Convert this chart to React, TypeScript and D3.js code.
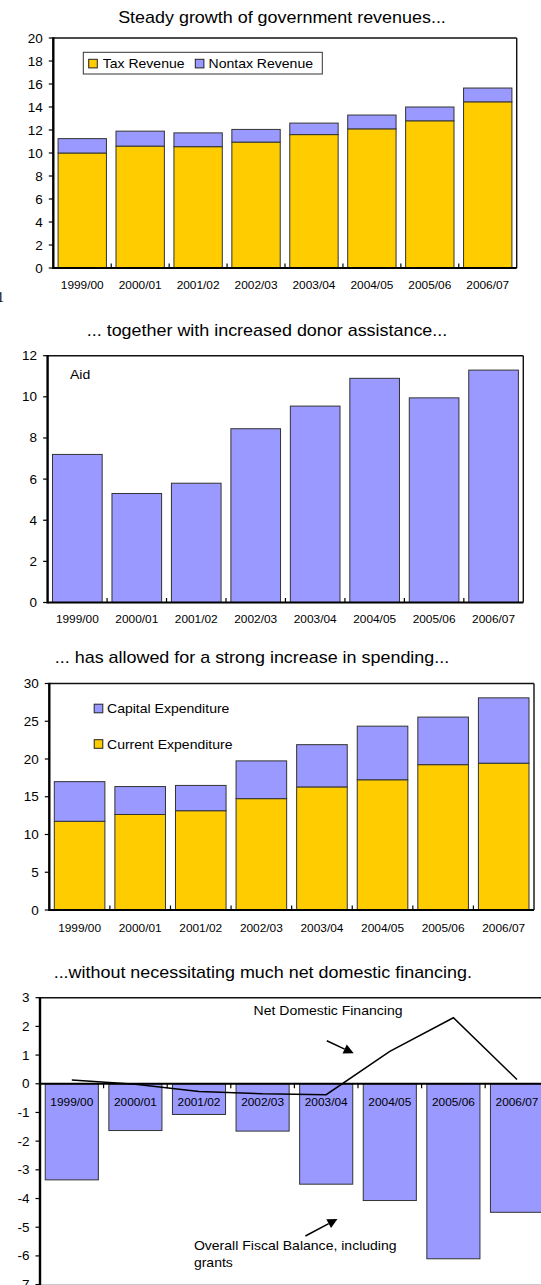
import React from "react";
import * as d3 from "d3";

// Fiscal years shared by all four panels
const years = ["1999/00", "2000/01", "2001/02", "2002/03", "2003/04", "2004/05", "2005/06", "2006/07"];

// Panel 1: revenues (percent of GDP)
const taxRevenue = [10.0, 10.6, 10.55, 10.95, 11.6, 12.1, 12.8, 14.45];
const nontaxRevenue = [1.25, 1.3, 1.2, 1.1, 1.0, 1.2, 1.2, 1.2];
const revenueTicks = [0, 2, 4, 6, 8, 10, 12, 14, 16, 18, 20];

// Panel 2: donor aid
const aid = [7.2, 5.3, 5.8, 8.45, 9.55, 10.9, 9.95, 11.3];
const aidTicks = [0, 2, 4, 6, 8, 10, 12];

// Panel 3: spending
const currentExpenditure = [11.75, 12.65, 13.15, 14.75, 16.3, 17.25, 19.25, 19.45];
const capitalExpenditure = [5.25, 3.7, 3.35, 5.0, 5.6, 7.1, 6.3, 8.65];
const spendingTicks = [0, 5, 10, 15, 20, 25, 30];

// Panel 4: fiscal balance and domestic financing
const fiscalBalance = [-3.35, -1.63, -1.07, -1.65, -3.5, -4.07, -6.1, -4.48];
const netDomesticFinancing = [0.13, -0.02, -0.27, -0.35, -0.38, 1.13, 2.3, 0.15];
const balanceTicks = [3, 2, 1, 0, -1, -2, -3, -4, -5, -6, -7];

const YELLOW = "#FFCC00";
const PURPLE = "#9999FF";
const FONT = "'Liberation Sans', Arial, Helvetica, sans-serif";
const STRETCH = 1.08;

type TProps = {
  x: number;
  y: number;
  size: number;
  anchor?: "start" | "middle" | "end";
  family?: string;
  children: React.ReactNode;
};

const T = ({ x, y, size, anchor = "start", family = FONT, children }: TProps) => (
  <text
    transform={`translate(${x},${y}) scale(${STRETCH},1)`}
    textAnchor={anchor}
    fontSize={size}
    fontFamily={family}
    fill="#000"
  >
    {children}
  </text>
);

const PAD = 0.165;

function band(x0: number, x1: number) {
  return d3.scaleBand<string>().domain(years).range([x0, x1]).paddingInner(PAD).paddingOuter(PAD / 2);
}

type FrameProps = {
  x0: number;
  x1: number;
  yTop: number;
  yBottom: number;
  y: d3.ScaleLinear<number, number>;
  ticks: number[];
};

// Plot frame, left axis with outward ticks and numeric labels
const Frame = ({ x0, x1, yTop, yBottom, y, ticks }: FrameProps) => (
  <g>
    <line x1={x0} x2={x1} y1={yTop} y2={yTop} stroke="#111" strokeWidth={1.4} />
    <line x1={x1} x2={x1} y1={yTop} y2={yBottom} stroke="#111" strokeWidth={1.4} />
    <line x1={x0} x2={x0} y1={yTop - 0.7} y2={yBottom + 1} stroke="#000" strokeWidth={2.4} />
    {ticks.map((t) => (
      <g key={t}>
        <line x1={x0 - 4.5} x2={x0} y1={y(t)} y2={y(t)} stroke="#000" strokeWidth={1.2} />
        <T x={x0 - 10.5} y={y(t) + 4.5} size={12.5} anchor="end">
          {t}
        </T>
      </g>
    ))}
  </g>
);

const CategoryAxis = ({
  x,
  yAxis,
  labelY,
  dir,
}: {
  x: d3.ScaleBand<string>;
  yAxis: number;
  labelY: number | null;
  dir: number;
}) => {
  const step = x.step();
  const start = x.range()[0];
  return (
    <g>
      <line x1={x.range()[0]} x2={x.range()[1]} y1={yAxis} y2={yAxis} stroke="#000" strokeWidth={2.2} />
      {d3.range(1, years.length).map((k) => (
        <line
          key={k}
          x1={start + k * step}
          x2={start + k * step}
          y1={yAxis}
          y2={yAxis + dir * 4.5}
          stroke="#000"
          strokeWidth={1.2}
        />
      ))}
      {labelY !== null &&
        years.map((yr) => (
          <T key={yr} x={(x(yr) as number) + x.bandwidth() / 2} y={labelY} size={11} anchor="middle">
            {yr}
          </T>
        ))}
    </g>
  );
};

const Swatch = ({ x, y, color }: { x: number; y: number; color: string }) => (
  <rect x={x} y={y} width={8.6} height={8.6} fill={color} stroke="#222" strokeWidth={1} />
);

function Arrow({ x1, y1, x2, y2 }: { x1: number; y1: number; x2: number; y2: number }) {
  const dx = x2 - x1;
  const dy = y2 - y1;
  const len = Math.hypot(dx, dy);
  const ux = dx / len;
  const uy = dy / len;
  const head = 10;
  const half = 5;
  const bx = x2 - ux * head;
  const by = y2 - uy * head;
  const pts = [
    [x2, y2],
    [bx - uy * half, by + ux * half],
    [bx + uy * half, by - ux * half],
  ];
  return (
    <g>
      <line x1={x1} y1={y1} x2={bx} y2={by} stroke="#000" strokeWidth={1.5} />
      <polygon points={pts.map((p) => p.join(",")).join(" ")} fill="#000" />
    </g>
  );
}

function RevenuePanel() {
  const x0 = 53.3, x1 = 516.7, yTop = 38, yBottom = 268;
  const x = band(x0, x1);
  const y = d3.scaleLinear().domain([0, 20]).range([yBottom, yTop]);
  return (
    <g>
      <T x={282} y={22.5} size={16.6} anchor="middle">
        Steady growth of government revenues...
      </T>
      <rect x={x0} y={yTop} width={x1 - x0} height={yBottom - yTop} fill="#fff" />
      {years.map((yr, i) => {
        const bx = x(yr) as number;
        const w = x.bandwidth();
        return (
          <g key={yr}>
            <rect x={bx} y={y(taxRevenue[i])} width={w} height={y(0) - y(taxRevenue[i])} fill={YELLOW} stroke="#333" strokeWidth={1} />
            <rect
              x={bx}
              y={y(taxRevenue[i] + nontaxRevenue[i])}
              width={w}
              height={y(taxRevenue[i]) - y(taxRevenue[i] + nontaxRevenue[i])}
              fill={PURPLE}
              stroke="#333"
              strokeWidth={1}
            />
          </g>
        );
      })}
      <Frame x0={x0} x1={x1} yTop={yTop} yBottom={yBottom} y={y} ticks={revenueTicks} />
      <CategoryAxis x={x} yAxis={yBottom} labelY={288.7} dir={-1} />
      <rect x={83.3} y={52.3} width={239} height={21.7} fill="#fff" stroke="#333" strokeWidth={1} />
      <Swatch x={88.7} y={59.3} color={YELLOW} />
      <T x={102.7} y={68.3} size={13}>Tax Revenue</T>
      <Swatch x={195.3} y={59.3} color={PURPLE} />
      <T x={208.5} y={68.3} size={13}>Nontax Revenue</T>
    </g>
  );
}

function AidPanel() {
  const x0 = 47.6, x1 = 523.3, yTop = 355.7, yBottom = 602.5;
  const x = band(x0, x1);
  const y = d3.scaleLinear().domain([0, 12]).range([yBottom, yTop]);
  return (
    <g>
      <T x={267} y={335.5} size={16.6} anchor="middle">
        ... together with increased donor assistance...
      </T>
      {years.map((yr, i) => (
        <rect
          key={yr}
          x={x(yr) as number}
          y={y(aid[i])}
          width={x.bandwidth()}
          height={y(0) - y(aid[i])}
          fill={PURPLE}
          stroke="#333"
          strokeWidth={1}
        />
      ))}
      <Frame x0={x0} x1={x1} yTop={yTop} yBottom={yBottom} y={y} ticks={aidTicks} />
      <CategoryAxis x={x} yAxis={yBottom} labelY={623} dir={-1} />
      <T x={70} y={379.3} size={13}>Aid</T>
    </g>
  );
}

function SpendingPanel() {
  const x0 = 49.3, x1 = 534, yTop = 683.5, yBottom = 910;
  const x = band(x0, x1);
  const y = d3.scaleLinear().domain([0, 30]).range([yBottom, yTop]);
  return (
    <g>
      <T x={252} y={662.5} size={16.6} anchor="middle">
        ... has allowed for a strong increase in spending...
      </T>
      {years.map((yr, i) => {
        const bx = x(yr) as number;
        const w = x.bandwidth();
        const cur = currentExpenditure[i];
        const tot = cur + capitalExpenditure[i];
        return (
          <g key={yr}>
            <rect x={bx} y={y(cur)} width={w} height={y(0) - y(cur)} fill={YELLOW} stroke="#333" strokeWidth={1} />
            <rect x={bx} y={y(tot)} width={w} height={y(cur) - y(tot)} fill={PURPLE} stroke="#333" strokeWidth={1} />
          </g>
        );
      })}
      <Frame x0={x0} x1={x1} yTop={yTop} yBottom={yBottom} y={y} ticks={spendingTicks} />
      <CategoryAxis x={x} yAxis={yBottom} labelY={931.5} dir={-1} />
      <Swatch x={94.2} y={704.2} color={PURPLE} />
      <T x={107} y={713} size={13}>Capital Expenditure</T>
      <Swatch x={94.2} y={739.7} color={YELLOW} />
      <T x={107} y={748.5} size={13}>Current Expenditure</T>
    </g>
  );
}

function BalancePanel() {
  const x0 = 40, x1 = 548.8, yTop = 997.7, yBottom = 1284.6;
  const x = band(x0, x1);
  const y = d3.scaleLinear().domain([-7, 3]).range([yBottom, yTop]);
  const cx = (yr: string) => (x(yr) as number) + x.bandwidth() / 2;
  const line = d3
    .line<number>()
    .x((_, i) => cx(years[i]))
    .y((v) => y(v));
  return (
    <g>
      <T x={262.8} y={978} size={16.6} anchor="middle">
        ...without necessitating much net domestic financing.
      </T>
      {years.map((yr, i) => (
        <rect
          key={yr}
          x={x(yr) as number}
          y={y(0)}
          width={x.bandwidth()}
          height={y(fiscalBalance[i]) - y(0)}
          fill={PURPLE}
          stroke="#333"
          strokeWidth={1}
        />
      ))}
      {years.map((yr) => (
        <T key={yr} x={cx(yr)} y={1105.5} size={11} anchor="middle">
          {yr}
        </T>
      ))}
      <line x1={x0} x2={x1} y1={yBottom} y2={yBottom} stroke="#c4c4c4" strokeWidth={1} />
      <line x1={x0} x2={x1} y1={yTop} y2={yTop} stroke="#111" strokeWidth={1.4} />
      <line x1={x0} x2={x0} y1={yTop - 0.7} y2={yBottom + 2} stroke="#000" strokeWidth={2.4} />
      {balanceTicks.map((t) => (
        <g key={t}>
          <line x1={x0 - 4.5} x2={x0} y1={y(t)} y2={y(t)} stroke="#000" strokeWidth={1.2} />
          <T x={x0 - 10.5} y={y(t) + 4.5} size={12.5} anchor="end">
            {t}
          </T>
        </g>
      ))}
      <CategoryAxis x={x} yAxis={y(0)} labelY={null} dir={1} />
      <path d={line(netDomesticFinancing) || ""} fill="none" stroke="#000" strokeWidth={1.5} />
      <T x={253.6} y={1015} size={13}>Net Domestic Financing</T>
      <Arrow x1={326.8} y1={1040.7} x2={353.7} y2={1053.3} />
      <T x={193.9} y={1250} size={13}>Overall Fiscal Balance, including</T>
      <T x={193.9} y={1266.5} size={13}>grants</T>
      <Arrow x1={305.4} y1={1236} x2={337.5} y2={1219} />
    </g>
  );
}

export default function App() {
  return (
    <svg
      width={541}
      height={1285}
      viewBox="0 0 541 1285"
      style={{ position: "absolute", left: 0, top: 0, background: "#fff" }}
    >
      <rect x={0} y={0} width={541} height={1285} fill="#fff" />
      <RevenuePanel />
      <text x={-3} y={302} fontSize={14} fontFamily="'Liberation Serif', 'Times New Roman', serif">
        1
      </text>
      <AidPanel />
      <SpendingPanel />
      <BalancePanel />
    </svg>
  );
}
